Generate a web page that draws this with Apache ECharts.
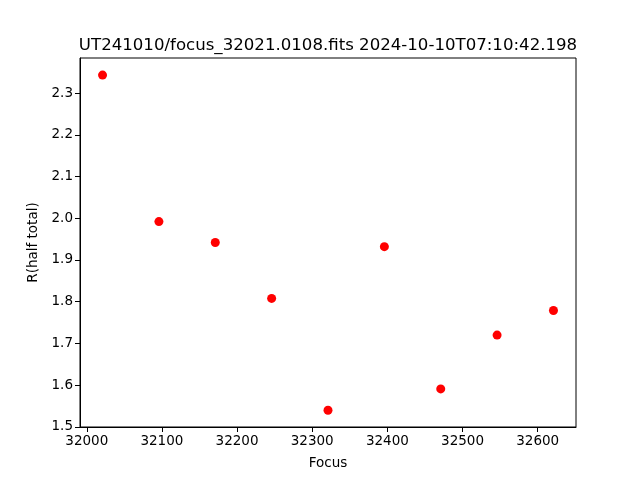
<!DOCTYPE html>
<html><head><meta charset="utf-8">
<script src="https://cdn.jsdelivr.net/npm/echarts@6/dist/echarts.min.js"></script>
<style>html,body{margin:0;padding:0;background:#fff}#c{width:640px;height:480px}</style>
</head><body><div id="c"></div>
<script>
const focus = [32021, 32096, 32171, 32246, 32321, 32396, 32471, 32546, 32621];
const rHalf = [2.343, 1.992, 1.942, 1.808, 1.540, 1.932, 1.591, 1.720, 1.779];
const xTicks = [32000, 32100, 32200, 32300, 32400, 32500, 32600];
const yTicks = [1.5, 1.6, 1.7, 1.8, 1.9, 2.0, 2.1, 2.2, 2.3];
const titleText = 'UT241010/focus_32021.0108.fits 2024-10-10T07:10:42.198';

const font = 'DejaVu Sans';
const chart = echarts.init(document.getElementById('c'), null, {renderer: 'canvas'});
chart.setOption({
  animation: false,
  backgroundColor: '#fff',
  title: {text: titleText, left: 323, textAlign: 'center', top: 32, textStyle: {fontFamily: font, fontSize: 16.6, fontWeight: 'normal', color: '#000'}},
  grid: {left: 80, right: 64, top: 58, bottom: 53, show: true, borderColor: '#000', borderWidth: 1, backgroundColor: 'transparent'},
  xAxis: {
    type: 'value', min: 31991, max: 32651,
    name: 'Focus', nameLocation: 'middle', nameGap: 29,
    nameTextStyle: {fontFamily: font, fontSize: 13.5, color: '#000'},
    axisLine: {show: true, lineStyle: {color: '#000', width: 1}},
    axisTick: {show: true, inside: false, length: 5, customValues: xTicks, lineStyle: {color: '#000'}},
    axisLabel: {customValues: xTicks, fontFamily: font, fontSize: 13.5, color: '#000', margin: 7, formatter: v => String(v)},
    splitLine: {show: false}
  },
  yAxis: {
    type: 'value', min: 1.4998, max: 2.384,
    name: 'R(half total)', nameLocation: 'middle', nameGap: 38,
    nameTextStyle: {fontFamily: font, fontSize: 13.5, color: '#000'},
    axisLine: {show: true, lineStyle: {color: '#000', width: 1}},
    axisTick: {show: true, inside: false, length: 5, customValues: yTicks, lineStyle: {color: '#000'}},
    axisLabel: {customValues: yTicks, fontFamily: font, fontSize: 13.5, color: '#000', margin: 7, formatter: v => v.toFixed(1)},
    splitLine: {show: false}
  },
  series: [{
    type: 'scatter',
    data: focus.map((f, i) => [f, rHalf[i]]),
    symbol: 'circle', symbolSize: 9,
    itemStyle: {color: '#ff0000', opacity: 1}
  }]
});
</script></body></html>
